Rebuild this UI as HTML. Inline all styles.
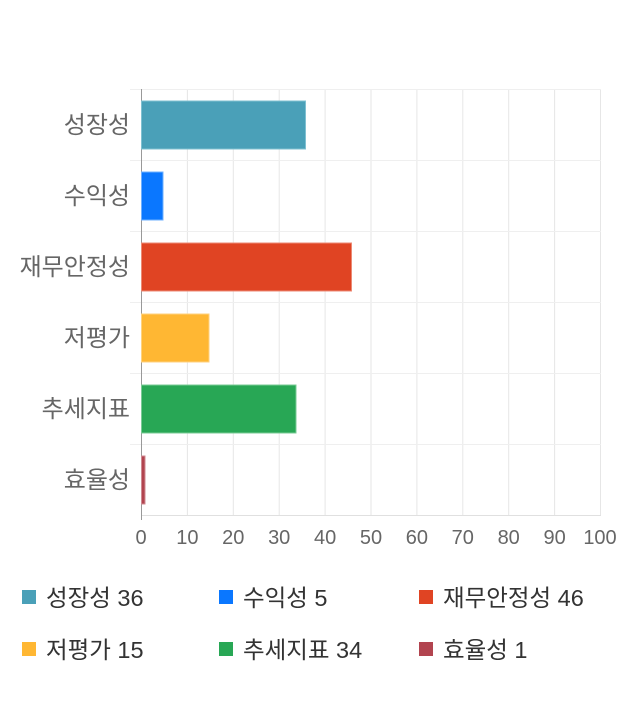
<!DOCTYPE html>
<html><head><meta charset="utf-8"><style>
body{margin:0;background:#fff;width:640px;height:700px;overflow:hidden}
svg text{font-family:"Liberation Sans","Noto Sans CJK KR",sans-serif}
</style></head><body>
<svg width="640" height="700" xmlns="http://www.w3.org/2000/svg">
<g stroke="#e6e6e6" stroke-width="1">
<line x1="187.4" y1="89" x2="187.4" y2="515"/><line x1="233.3" y1="89" x2="233.3" y2="515"/>
<line x1="279.2" y1="89" x2="279.2" y2="515"/><line x1="325.1" y1="89" x2="325.1" y2="515"/>
<line x1="371" y1="89" x2="371" y2="515"/><line x1="416.9" y1="89" x2="416.9" y2="515"/>
<line x1="462.8" y1="89" x2="462.8" y2="515"/><line x1="508.7" y1="89" x2="508.7" y2="515"/>
<line x1="554.6" y1="89" x2="554.6" y2="515"/><line x1="600.5" y1="89" x2="600.5" y2="515"/>
</g>
<g stroke="#efefef" stroke-width="1">
<line x1="130" y1="89.5" x2="601" y2="89.5"/><line x1="130" y1="160.5" x2="601" y2="160.5"/>
<line x1="130" y1="231.5" x2="601" y2="231.5"/><line x1="130" y1="302.5" x2="601" y2="302.5"/>
<line x1="130" y1="373.5" x2="601" y2="373.5"/><line x1="130" y1="444.5" x2="601" y2="444.5"/>
</g>
<line x1="141" y1="515.5" x2="601" y2="515.5" stroke="#e0e0e0"/>
<line x1="141.5" y1="89" x2="141.5" y2="520" stroke="#999"/>
<rect x="141.5" y="101" width="164" height="48" fill="#4aa0b8" stroke="#7fc0d1"/>
<rect x="141.5" y="172" width="21.5" height="48" fill="#0a77ff" stroke="#6fb0ff"/>
<rect x="141.5" y="243" width="210" height="48" fill="#e04423" stroke="#ec8a74"/>
<rect x="141.5" y="314" width="67.5" height="48" fill="#ffb733" stroke="#ffd27f"/>
<rect x="141.5" y="385" width="154.5" height="48" fill="#28a755" stroke="#7acb95"/>
<rect x="141.5" y="456" width="3.5" height="48" fill="#b2444f" stroke="#cf8a91"/>
<g font-size="24" fill="#666" text-anchor="end">
<text x="130" y="133">성장성</text><text x="130" y="204">수익성</text>
<text x="130" y="275">재무안정성</text><text x="130" y="346">저평가</text>
<text x="130" y="417">추세지표</text><text x="130" y="488">효율성</text>
</g>
<g font-size="20" fill="#666" text-anchor="middle">
<text x="141" y="544">0</text><text x="187.4" y="544">10</text><text x="233.3" y="544">20</text>
<text x="279.2" y="544">30</text><text x="325.1" y="544">40</text><text x="371" y="544">50</text>
<text x="416.9" y="544">60</text><text x="462.8" y="544">70</text><text x="508.7" y="544">80</text>
<text x="554.6" y="544">90</text><text x="600" y="544">100</text>
</g>
<g font-size="23.5" fill="#333">
<rect x="22" y="590" width="14" height="14" fill="#4aa0b8"/><text x="46" y="606">성장성 36</text>
<rect x="219" y="590" width="14" height="14" fill="#0a77ff"/><text x="243" y="606">수익성 5</text>
<rect x="419" y="590" width="14" height="14" fill="#e04423"/><text x="443" y="606">재무안정성 46</text>
<rect x="22" y="642" width="14" height="14" fill="#ffb733"/><text x="46" y="658">저평가 15</text>
<rect x="219" y="642" width="14" height="14" fill="#28a755"/><text x="243" y="658">추세지표 34</text>
<rect x="419" y="642" width="14" height="14" fill="#b2444f"/><text x="443" y="658">효율성 1</text>
</g>
</svg>
</body></html>
